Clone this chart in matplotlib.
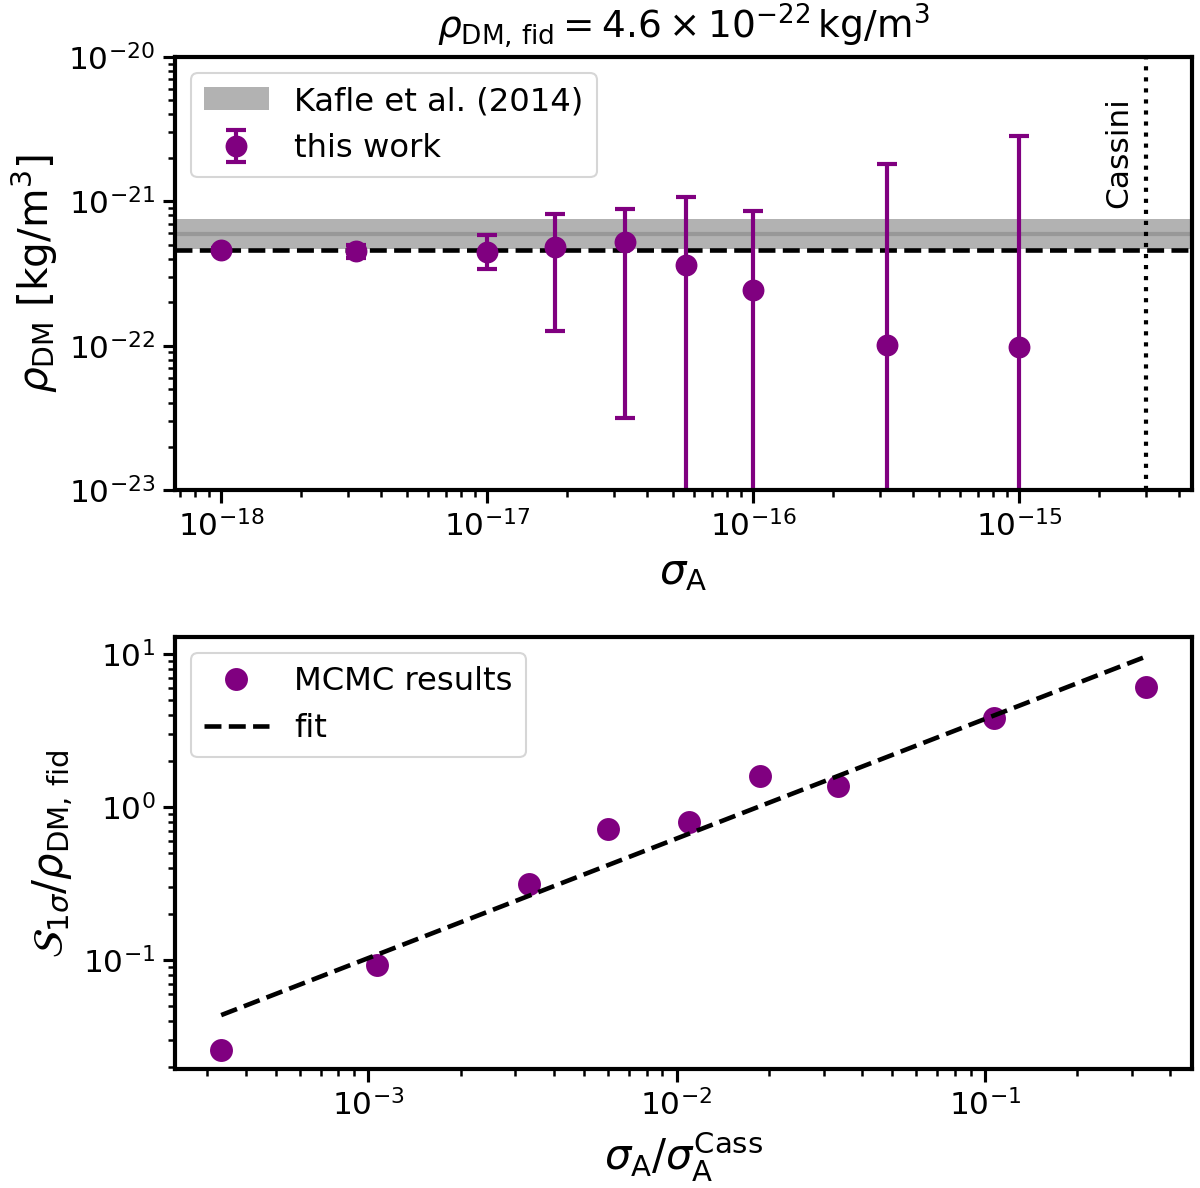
import numpy as np
import matplotlib
matplotlib.use("Agg")
import matplotlib.pyplot as plt

# values
rho_fid = 4.6e-22
sigma_cass = 3e-15

sigma_A = [1e-18, 3.2e-18, 1e-17, 1.8e-17, 3.3e-17, 5.6e-17, 1e-16, 3.2e-16, 1e-15]
rho_dm = [4.6e-22, 4.5e-22, 4.45e-22, 4.84e-22, 5.25e-22, 3.63e-22, 2.43e-22, 1.01e-22, 0.98e-22]
rho_low = [4.48e-22, 4.07e-22, 3.41e-22, 1.26e-22, 3.15e-23, 0.0, 0.0, 0.0, 0.0]
rho_high = [4.72e-22, 5.0e-22, 5.86e-22, 8.13e-22, 8.85e-22, 1.07e-21, 8.6e-22, 1.82e-21, 2.84e-21]

kafle_low = 4.7e-22
kafle_mid = 5.9e-22
kafle_high = 7.5e-22

ratio = [3.33e-4, 1.07e-3, 3.33e-3, 6.0e-3, 1.1e-2, 1.87e-2, 3.33e-2, 0.107, 0.333]
s1sigma = [0.0259, 0.092, 0.315, 0.722, 0.799, 1.59, 1.37, 3.80, 6.05]
fit_x = [3.33e-4, 0.333]
fit_y = [0.0435, 9.6]

purple = "#800080"

plt.rcParams["axes.linewidth"] = 2
plt.rcParams["xtick.major.width"] = 1.5
plt.rcParams["ytick.major.width"] = 1.5
plt.rcParams["xtick.minor.width"] = 1.2
plt.rcParams["ytick.minor.width"] = 1.2
plt.rcParams["xtick.major.size"] = 6
plt.rcParams["ytick.major.size"] = 6
plt.rcParams["xtick.minor.size"] = 3.5
plt.rcParams["ytick.minor.size"] = 3.5

fig = plt.figure(figsize=(8, 7.92), dpi=150)
ax1 = fig.add_axes([0.1458, 0.5875, 0.8475, 0.3645])
ax2 = fig.add_axes([0.1458, 0.1, 0.8475, 0.3638])

# top panel
rho = np.array(rho_dm)
yerr = [rho - np.array(rho_low), np.array(rho_high) - rho]
ax1.axhspan(kafle_low, kafle_high, color="0.5", alpha=0.6, lw=0, label="Kafle et al. (2014)")
ax1.axhline(kafle_mid, color="0.5", alpha=0.5, lw=2)
ax1.axhline(rho_fid, color="k", ls="--", lw=2.2)
ax1.axvline(sigma_cass, color="k", ls=":", lw=2)
ax1.errorbar(sigma_A, rho_dm, yerr=yerr, fmt="o", color=purple, ms=9.5,
             elinewidth=2, capsize=5, capthick=2, label="this work")
ax1.text(sigma_cass * 0.9, 0.651, "Cassini", rotation=90, fontsize=15,
         ha="right", va="bottom", transform=ax1.get_xaxis_transform())
ax1.set_xscale("log")
ax1.set_yscale("log")
ax1.set_ylim(1e-23, 1e-20)
ax1.set_xlabel(r"$\sigma_{\rm A}$", fontsize=20)
ax1.set_ylabel(r"$\rho_{\rm DM}$ [kg/m$^3$]", fontsize=19.5)
ax1.set_title(r"$\rho_{\rm DM,\,fid} = 4.6\times10^{-22}\,$kg/m$^3$", fontsize=18, pad=9)
ax1.tick_params(labelsize=15)
ax1.legend(loc="upper left", fontsize=15.5)

# bottom panel
ax2.plot(ratio, s1sigma, "o", color=purple, ms=10, label="MCMC results")
ax2.plot(fit_x, fit_y, "k--", lw=2.2, label="fit")
ax2.set_xscale("log")
ax2.set_yscale("log")
ax2.set_xlabel(r"$\sigma_{\rm A}/\sigma_{\rm A}^{\rm Cass}$", fontsize=20)
ax2.set_ylabel(r"$\mathcal{S}_{1\sigma}/\rho_{\rm DM,\,fid}$", fontsize=20)
ax2.tick_params(labelsize=15)
ax2.legend(loc="upper left", fontsize=15.5)

fig.savefig("out.png", dpi=150)
